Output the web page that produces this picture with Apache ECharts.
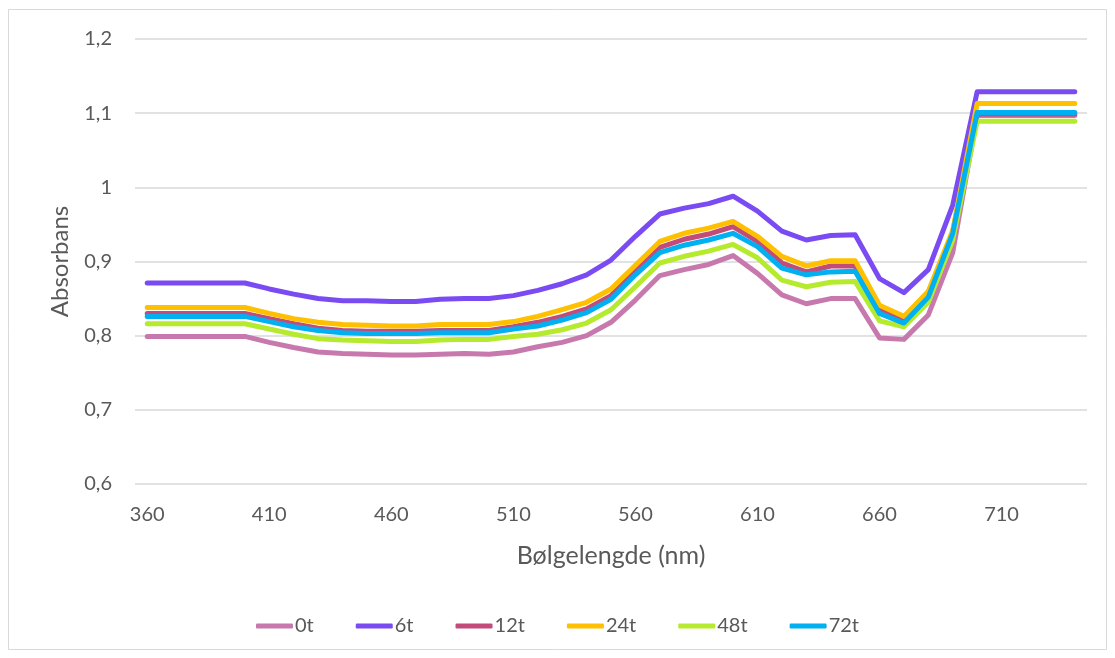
<!DOCTYPE html>
<html>
<head>
<meta charset="utf-8">
<script src="https://cdn.jsdelivr.net/npm/echarts@6/dist/echarts.min.js"></script>
<style>
html,body{margin:0;padding:0;background:#fff;}
#c{width:1115px;height:658px;}
</style>
</head>
<body>
<div id="c"></div>
<script>
const wavelengths = [360,370,380,390,400,410,420,430,440,450,460,470,480,490,500,510,520,530,540,550,560,570,580,590,600,610,620,630,640,650,660,670,680,690,700,710,720,730,740];
const seriesNames = ['0t','6t','12t','24t','48t','72t'];
const s0t  = [0.799,0.799,0.799,0.799,0.799, 0.791,0.784,0.778,0.776,0.775,0.774,0.774,0.775,0.776,0.775, 0.778,0.785,0.791,0.800,0.818,0.848,0.881,0.889,0.896,0.908, 0.884,0.855,0.843,0.850,0.850,0.797,0.795,0.828,0.912, 1.097,1.097,1.097,1.097,1.097];
const s6t  = [0.871,0.871,0.871,0.871,0.871, 0.863,0.856,0.850,0.847,0.847,0.846,0.846,0.849,0.850,0.850, 0.854,0.861,0.870,0.882,0.902,0.934,0.964,0.972,0.978,0.988, 0.968,0.941,0.929,0.935,0.936,0.877,0.858,0.889,0.976, 1.129,1.129,1.129,1.129,1.129];
const s12t = [0.830,0.830,0.830,0.830,0.830, 0.823,0.816,0.810,0.807,0.806,0.806,0.806,0.807,0.807,0.807, 0.812,0.818,0.826,0.836,0.854,0.887,0.919,0.930,0.937,0.947, 0.927,0.898,0.886,0.894,0.894,0.834,0.822,0.855,0.940, 1.099,1.099,1.099,1.099,1.099];
const s24t = [0.838,0.838,0.838,0.838,0.838, 0.830,0.823,0.818,0.815,0.814,0.813,0.813,0.815,0.815,0.815, 0.819,0.826,0.835,0.845,0.863,0.895,0.927,0.938,0.945,0.954, 0.934,0.907,0.894,0.901,0.901,0.841,0.826,0.860,0.942, 1.113,1.113,1.113,1.113,1.113];
const s48t = [0.816,0.816,0.816,0.816,0.816, 0.809,0.802,0.796,0.794,0.793,0.792,0.792,0.794,0.795,0.795, 0.799,0.802,0.808,0.817,0.835,0.866,0.898,0.907,0.914,0.923, 0.905,0.875,0.866,0.872,0.873,0.820,0.812,0.845,0.929, 1.089,1.089,1.089,1.089,1.089];
const s72t = [0.826,0.826,0.826,0.826,0.826, 0.819,0.812,0.807,0.804,0.803,0.803,0.803,0.804,0.804,0.804, 0.809,0.813,0.821,0.831,0.849,0.882,0.912,0.922,0.929,0.938, 0.920,0.891,0.882,0.886,0.887,0.830,0.817,0.852,0.938, 1.101,1.101,1.101,1.101,1.101];
const seriesData = [s0t, s6t, s12t, s24t, s48t, s72t];
const colors = ['#C779AD','#7A4BF2','#C24B7A','#FFC000','#B5EA2F','#00B0F0'];
const yTicks = {min:0.6, max:1.2, interval:0.1};
const xTitle = 'Bølgelengde (nm)';
const yTitle = 'Absorbans';

const FONT = 'Lato';
const TXT = '#595959';
const chart = echarts.init(document.getElementById('c'), null, {renderer:'canvas'});
chart.setOption({
  animation:false,
  backgroundColor:'#fff',
  color: colors,
  grid:{left:135, right:28, top:39, bottom:174, containLabel:false},
  graphic:[{type:'rect', shape:{x:8.5,y:9.5,width:1098,height:640}, style:{fill:'none', stroke:'#D9D9D9', lineWidth:1}, silent:true}],
  xAxis:{
    type:'category', data: wavelengths, boundaryGap:true,
    axisLine:{show:false}, axisTick:{show:false},
    axisLabel:{interval:4, color:TXT, fontFamily:FONT, fontSize:20, margin:21},
    splitLine:{show:false},
    name:xTitle, nameLocation:'middle', nameGap:59,
    nameTextStyle:{color:TXT, fontFamily:FONT, fontSize:25}
  },
  yAxis:{
    type:'value', min:yTicks.min, max:yTicks.max, interval:yTicks.interval,
    axisLine:{show:false}, axisTick:{show:false},
    axisLabel:{color:TXT, fontFamily:FONT, fontSize:20, margin:23,
      formatter:v=>String(Math.round(v*10)/10).replace('.',',')},
    splitLine:{lineStyle:{color:'#D9D9D9', width:1.5}},
    name:yTitle, nameLocation:'middle', nameGap:63, nameRotate:90,
    nameTextStyle:{color:TXT, fontFamily:FONT, fontSize:24}
  },
  legend:{
    bottom:17, left:'center', itemWidth:37, itemHeight:5, itemGap:42,
    icon:'roundRect',
    textStyle:{color:TXT, fontFamily:FONT, fontSize:20, padding:[0,0,0,-3]},
    data: seriesNames
  },
  series: seriesNames.map((n,i)=>({
    name:n, type:'line', data:seriesData[i], showSymbol:false, symbol:'none',
    lineStyle:{width:5, cap:'round', join:'round', color:colors[i]},
    itemStyle:{color:colors[i]}, z:2+i
  }))
});
</script>
</body>
</html>
